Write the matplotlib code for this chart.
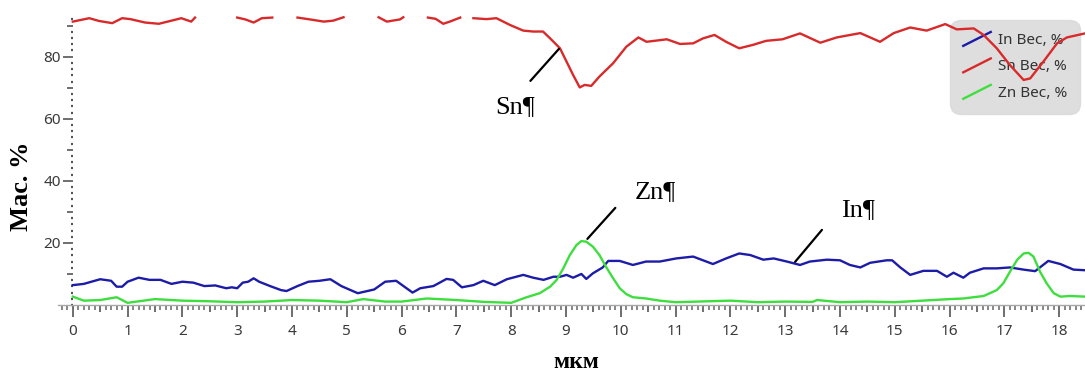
import matplotlib.pyplot as plt
from matplotlib.lines import Line2D
from matplotlib.legend_handler import HandlerBase
from matplotlib.ticker import MultipleLocator, FixedLocator, FuncFormatter

nan = float("nan")

# Sn profile (nan = above the top of the axis, cut off in the original)
sn_x = [0, 0.3, 0.48, 0.72, 0.9, 1.05, 1.32, 1.57, 1.8, 1.98, 2.16, 2.23, 2.3, 2.93, 3.0,
        3.15, 3.3, 3.45, 3.64, 3.7, 4.04, 4.1, 4.33, 4.58, 4.75, 4.94, 5.0, 5.52, 5.58, 5.73,
        5.97, 6.03, 6.09, 6.42, 6.48, 6.62, 6.76, 6.88, 7.07, 7.12, 7.26, 7.31, 7.55, 7.73, 7.98,
        8.22, 8.4, 8.58, 8.71, 8.89, 9.01, 9.13, 9.25, 9.34, 9.46, 9.61, 9.86, 10.1, 10.32, 10.47,
        10.84, 11.08, 11.32, 11.5, 11.71, 11.92, 12.16, 12.41, 12.65, 12.95, 13.27, 13.64, 13.94,
        14.37, 14.73, 14.98, 15.28, 15.58, 15.92, 16.13, 16.44, 16.62, 16.86, 17.1, 17.35, 17.47,
        17.71, 17.96, 18.14, 18.47]
sn_y = [91.3, 92.4, 91.5, 90.8, 92.4, 92.1, 91.0, 90.6, 91.6, 92.4, 91.3, 92.6, nan, nan, 92.6,
        92.0, 91.0, 92.4, 92.6, nan, nan, 92.6, 92.0, 91.3, 91.6, 92.7, nan, nan, 92.7, 91.3,
        92.0, 92.7, nan, nan, 92.6, 92.2, 90.6, 91.3, 92.6, nan, nan, 92.4, 92.1, 92.4, 90.2,
        88.4, 88.1, 88.1, 85.9, 82.7, 78.4, 74.1, 70.1, 70.9, 70.6, 73.6, 77.9, 83.2, 86.2, 84.8,
        85.6, 84.1, 84.3, 85.9, 87.0, 84.8, 82.7, 83.8, 85.1, 85.6, 87.5, 84.5, 86.2,
        87.6, 84.8, 87.6, 89.4, 88.4, 90.5, 88.8, 89.1, 87.0, 82.7, 77.3, 72.5, 73.0,
        78.4, 84.3, 86.2, 87.5]

in_x = [0, 0.2, 0.5, 0.7, 0.8, 0.9, 1.0, 1.2, 1.4, 1.6, 1.8, 2.0, 2.2, 2.4, 2.6, 2.8, 2.9, 3.0,
        3.1, 3.2, 3.3, 3.4, 3.6, 3.8, 3.9, 4.1, 4.3, 4.5, 4.7, 4.9, 5.2, 5.5, 5.7, 5.9, 6.2, 6.34,
        6.58, 6.82, 6.94, 7.1, 7.31, 7.49, 7.7, 7.92, 8.22, 8.4, 8.59, 8.77, 8.89, 9.01, 9.13, 9.28,
        9.37, 9.49, 9.67, 9.77, 9.98, 10.22, 10.46, 10.71, 11.01, 11.32, 11.68, 11.92, 12.16, 12.36,
        12.6, 12.79, 13.03, 13.27, 13.45, 13.76, 14.0, 14.18, 14.37, 14.55, 14.85, 14.95, 15.1,
        15.28, 15.52, 15.77, 15.95, 16.07, 16.25, 16.37, 16.62, 16.86, 17.1, 17.35, 17.56, 17.8,
        18.02, 18.26, 18.47]
in_y = [6.4, 6.8, 8.3, 7.8, 5.9, 5.9, 7.5, 8.8, 8.1, 8.1, 6.8, 7.5, 7.2, 6.1, 6.3, 5.4, 5.7, 5.4,
        7.2, 7.5, 8.6, 7.5, 6.1, 4.8, 4.5, 6.1, 7.5, 7.8, 8.3, 6.1, 3.8, 5.0, 7.5, 7.8, 4.0, 5.4,
        6.1, 8.4, 8.1, 5.7, 6.4, 7.8, 6.4, 8.3, 9.7, 8.8, 8.1, 9.1, 9.1, 9.7, 8.8, 10.0,
        8.4, 10.2, 12.1, 14.2, 14.2, 12.9, 14.0, 14.0, 15.0, 15.6, 13.2, 15.0, 16.6, 16.1,
        14.6, 15.0, 14.0, 12.9, 14.0, 14.6, 14.4, 12.9, 12.1, 13.6, 14.4, 14.4, 12.1,
        9.7, 11.0, 11.0, 9.1, 10.4, 8.8, 10.4, 11.8, 11.8, 12.1, 11.4, 10.9, 14.2,
        13.2, 11.4, 11.2]

zn_x = [0, 0.2, 0.5, 0.8, 1.0, 1.5, 2.0, 2.5, 3.0, 3.5, 4.0, 4.5, 5.0, 5.3, 5.7, 6.0, 6.46, 7.0,
        7.5, 8.0, 8.28, 8.52, 8.71, 8.83, 8.95, 9.07, 9.19, 9.28, 9.37, 9.49, 9.61, 9.73, 9.86,
        9.98, 10.1, 10.22, 10.46, 10.71, 11.0, 12.0, 12.5, 13.0, 13.5, 13.58, 14.0, 14.5, 15.0,
        15.5, 16.0, 16.25, 16.62, 16.86, 16.98, 17.1, 17.23, 17.35, 17.44, 17.53, 17.65, 17.77,
        17.9, 18.02, 18.2, 18.47]
zn_y = [2.7, 1.4, 1.6, 2.5, 0.7, 1.9, 1.4, 1.2, 0.9, 1.1, 1.6, 1.4, 0.9, 1.9, 1.1, 1.1, 2.1, 1.6,
        1.0, 0.7, 2.5, 3.8, 5.9, 8.1, 11.8, 16.1, 19.3, 20.6, 20.4, 18.8, 16.1, 12.3, 8.6,
        5.4, 3.5, 2.5, 2.1, 1.4, 0.9, 1.4, 0.9, 1.1, 1.0, 1.6, 0.9, 1.1, 0.9,
        1.4, 1.9, 2.1, 2.9, 4.8, 7.0, 10.7, 14.5, 16.6, 16.8, 15.6, 10.7, 7.0,
        3.8, 2.7, 2.9, 2.7]

series_labels = ["In Вес, %", "Sn Вес, %", "Zn Вес, %"]
series_colors = ["#1c1ca8", "#d82a2a", "#3ede3e"]

# callouts: text, text position, line start, line end
callouts = [
    ("Sn¶", (8.07, 63.8), (8.35, 72.2), (8.87, 82.5)),
    ("Zn¶", (10.63, 36.4), (9.39, 21.3), (9.90, 31.3)),
    ("In¶", (14.33, 30.6), (13.18, 13.9), (13.67, 24.2)),
]


class SlantHandler(HandlerBase):
    def create_artists(self, legend, orig_handle, xdescent, ydescent,
                       width, height, fontsize, trans):
        line = Line2D([-xdescent, -xdescent + width],
                      [-ydescent - 0.2 * height, -ydescent + 1.1 * height])
        self.update_prop(line, orig_handle, legend)
        line.set_transform(trans)
        return [line]


fig = plt.figure(figsize=(10.85, 3.72), dpi=100)
ax = fig.add_axes([58 / 1085, 67 / 372, 1027 / 1085, 289.6 / 372])

lines = []
for xs, ys, c, lab in zip([in_x, sn_x, zn_x], [in_y, sn_y, zn_y], series_colors, series_labels):
    ln, = ax.plot(xs, ys, color=c, lw=1.7, label=lab, zorder=3)
    lines.append(ln)

ax.set_xlim(-0.27, 18.47)
ax.set_ylim(0, 93.3)

ax.spines["top"].set_visible(False)
ax.spines["right"].set_visible(False)
ax.spines["left"].set_position(("data", 0))
ax.spines["left"].set_color("none")
ax.spines["bottom"].set_color("#a8a8a8")
ax.spines["bottom"].set_linewidth(1.0)

# x ticks: labelled integers, medium half ticks, small 0.1 ticks
ax.xaxis.set_major_locator(FixedLocator([i * 0.5 for i in range(37)]))
ax.xaxis.set_major_formatter(FuncFormatter(lambda v, p: "%d" % v if v == int(v) else ""))
ax.xaxis.set_minor_locator(MultipleLocator(0.1))
ax.tick_params(axis="x", which="major", direction="out", length=8.5, width=1.2,
               color="#555555", pad=5, labelsize=11, labelcolor="#3a3a3a")
ax.tick_params(axis="x", which="minor", direction="out", length=3.5, width=1.1, color="#666666")

# y ticks: labelled every 20, medium every 10, dots every 2
ax.yaxis.set_major_locator(FixedLocator(list(range(10, 91, 10))))
ax.yaxis.set_major_formatter(FuncFormatter(lambda v, p: "%d" % v if v % 20 == 0 else ""))
ax.yaxis.set_minor_locator(MultipleLocator(2))
ax.tick_params(axis="y", which="major", direction="out", length=7.5, width=1.2,
               color="#555555", pad=1, labelsize=11, labelcolor="#3a3a3a")
ax.tick_params(axis="y", which="minor", direction="out", length=1.6, width=1.6, color="#555555")

for lab in ax.get_xticklabels() + ax.get_yticklabels():
    lab.set_family("Noto Sans")

for t in ax.xaxis.get_major_ticks(37):
    if abs(t.get_loc() - round(t.get_loc())) > 0.01:
        t.tick1line.set_markersize(5)
for t in ax.yaxis.get_major_ticks(9):
    if t.get_loc() % 20 != 0:
        t.tick1line.set_markersize(4.3)

for txt, tpos, p0, p1 in callouts:
    ax.annotate("", xy=p1, xytext=p0,
                arrowprops=dict(arrowstyle="-", color="black", lw=1.6, shrinkA=0, shrinkB=0))
    ax.text(tpos[0], tpos[1], txt, ha="center", va="center",
            family="Liberation Serif", fontsize=19, color="black")

leg = ax.legend(handles=lines, loc="upper right", bbox_to_anchor=(0.995, 0.985),
                borderaxespad=0, handler_map={Line2D: SlantHandler()},
                prop={"family": "Noto Sans", "size": 11}, handlelength=1.8,
                handletextpad=0.45, labelspacing=0.75, borderpad=0.85,
                facecolor="#d9d9d9", edgecolor="#d9d9d9", framealpha=0.85, fancybox=True)
leg.get_frame().set_boxstyle("round", pad=0, rounding_size=0.7)
for t in leg.get_texts():
    t.set_color("#333333")
leg.set_zorder(1)

fig.text(22 / 1085, 1 - 186 / 372, "Мас. %", rotation=90, ha="center", va="center",
         family="Liberation Serif", fontweight="bold", fontsize=19)
fig.text(576 / 1085, 1 - 363 / 372, "мкм", ha="center", va="center",
         family="Liberation Serif", fontweight="bold", fontsize=17)

fig.savefig("out.png", dpi=100)
